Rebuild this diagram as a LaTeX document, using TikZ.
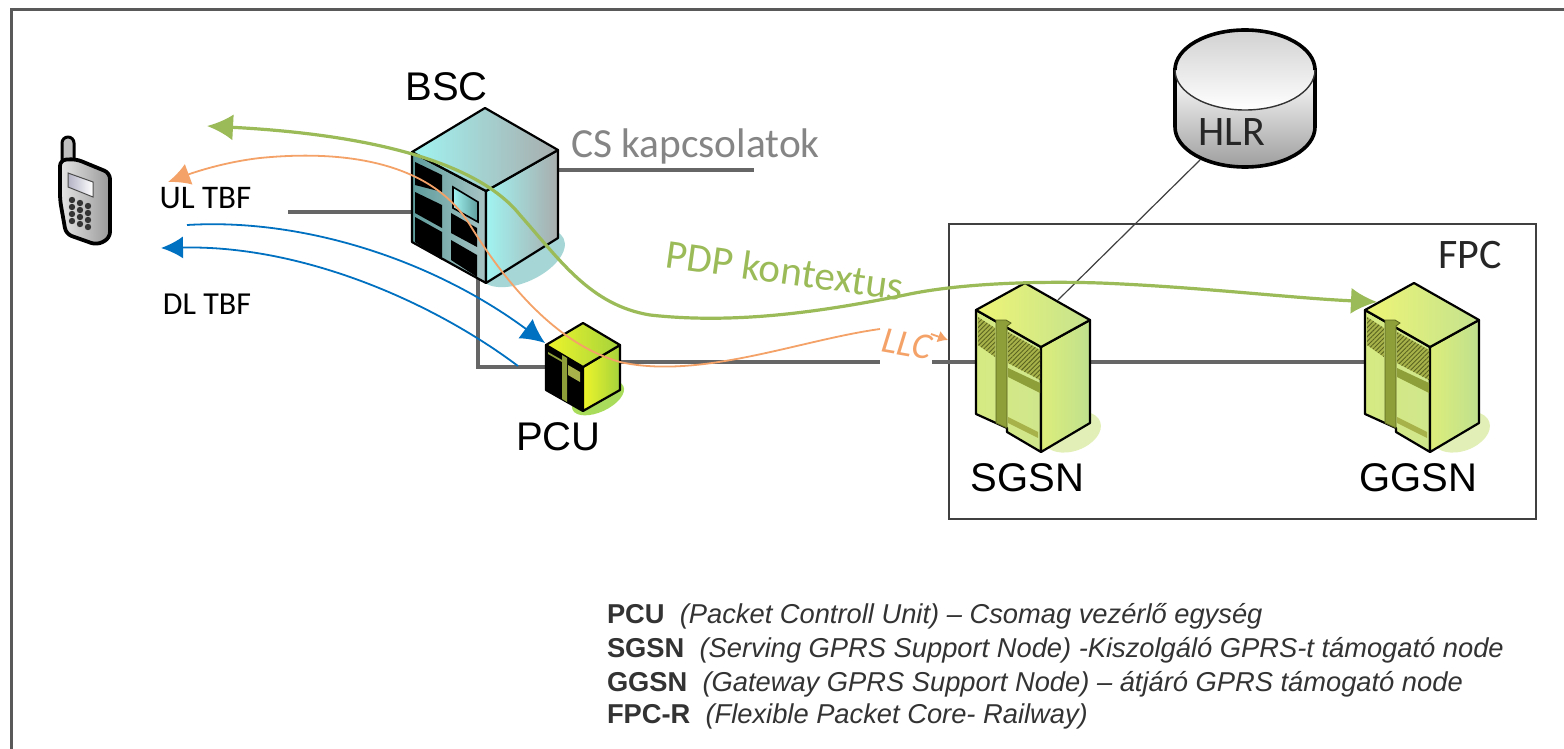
\documentclass[tikz,border=0pt]{standalone}
\usepackage{fontspec}
\setmainfont{Liberation Sans}
\newfontfamily\carl{Carlito}
\usetikzlibrary{arrows.meta,patterns.meta,shapes.geometric}
\definecolor{gArrow}{HTML}{9BBB59}
\definecolor{oArrow}{HTML}{F4A268}
\definecolor{bArrow}{HTML}{0070C0}
\definecolor{lineGray}{HTML}{666666}
\definecolor{srvTopL}{HTML}{EEF575}
\definecolor{srvTopR}{HTML}{C4E28E}
\definecolor{srvLeftL}{HTML}{D6EA82}
\definecolor{srvLeftR}{HTML}{CFE68C}
\definecolor{srvRightL}{HTML}{DDEE7A}
\definecolor{srvRightR}{HTML}{BFE08E}
\definecolor{srvStrip}{HTML}{8E9E38}
\definecolor{srvHatchBg}{HTML}{A8B24A}
\definecolor{srvHatch}{HTML}{5A6420}
\definecolor{srvShadow}{HTML}{E2F0B8}
\definecolor{bscCyan}{HTML}{A0F4F2}
\definecolor{bscGray}{HTML}{A8ACAC}
\definecolor{bscLeftL}{HTML}{5E9C9C}
\definecolor{bscLeftR}{HTML}{A8C4C4}
\definecolor{bscShadow}{HTML}{A6D6D6}
\definecolor{pcuBright}{HTML}{EEF52A}
\definecolor{pcuDim}{HTML}{A4D23C}
\definecolor{pcuShadow}{HTML}{A8DC5A}
\tikzset{
  x=0.5pt,y=-0.5pt,
  dev/.style={inner sep=0pt,outer sep=0pt,draw=none},
  lbl/.style={inner sep=0pt,outer sep=0pt,font=\fontsize{20pt}{22pt}\selectfont},
  clbl/.style={inner sep=0pt,outer sep=0pt,font=\carl\fontsize{16pt}{18pt}\selectfont},
  conn/.style={draw=lineGray,line width=1.7pt},
  thin conn/.style={draw=black!75,line width=0.6pt},
  edge/.style={draw=black,line width=1.1pt,line join=round},
  green curve/.style={draw=gArrow,line width=1.6pt},
  orange curve/.style={draw=oArrow,line width=0.9pt},
  blue curve/.style={draw=bArrow,line width=0.9pt},
  hatchbox/.style={pattern={Lines[angle=45,distance=1.6pt,line width=0.45pt]},pattern color=srvHatch},
  legend/.style={inner sep=0pt,outer sep=0pt,anchor=west,text=black!80,font=\fontsize{13.65pt}{15pt}\selectfont},
}
\newcommand{\serverbody}{%
  \fill[srvShadow,rotate around={20:(1072,432)}] (1072,432) ellipse [x radius=30,y radius=19];
  \path[edge,left color=srvLeftL,right color=srvLeftR] (976,310) -- (1041,347) -- (1041,452) -- (1007,432) -- (1007,428) -- (976,414) -- cycle;
  \path[edge,left color=srvRightL,right color=srvRightR] (1041,347) -- (1090,320) -- (1090,423) -- (1041,452) -- cycle;
  \path[edge,left color=srvTopL,right color=srvTopR] (976,310) -- (1025,283) -- (1090,320) -- (1041,347) -- cycle;
  \path[fill=srvStrip,draw=srvHatch,line width=0.4pt] (996,320) -- (1006,320) -- (1011,323) -- (1007,326) -- (1007,428) -- (996,423) -- cycle;
  \fill[srvHatchBg] (978,317) -- (995,328) -- (995,357) -- (978,345) -- cycle;
  \fill[hatchbox] (978,317) -- (995,328) -- (995,357) -- (978,345) -- cycle;
  \fill[srvHatchBg] (1008,332) -- (1040,350) -- (1040,380) -- (1008,363) -- cycle;
  \fill[hatchbox] (1008,332) -- (1040,350) -- (1040,380) -- (1008,363) -- cycle;
  \fill[srvStrip] (1008,368) -- (1040,383) -- (1040,393) -- (1008,377) -- cycle;
  \fill[srvHatchBg] (1008,417) -- (1038,432) -- (1038,438) -- (1008,423) -- cycle;
}
\begin{document}
\begin{tikzpicture}
\useasboundingbox (0,0) rectangle (1564,749);
\fill[white] (0,0) rectangle (1564,749);
% frame
\draw[draw=black!65,line width=1.5pt] (11,749) -- (11,10) -- (1564,10);
% device anchors
\node[dev,minimum width=73pt,minimum height=87.5pt] (bsc) at (485,196) {};
\node[dev,minimum width=37pt,minimum height=44pt] (pcu) at (583,367) {};
\node[dev,minimum width=57pt,minimum height=85pt] (sgsn) at (1033,367) {};
\node[dev,minimum width=57pt,minimum height=85pt] (ggsn) at (1421,367) {};
\node[dev,minimum width=70pt,minimum height=68.5pt] (hlr) at (1245,98) {};
\node[draw=black!75,line width=0.9pt,inner sep=0pt,minimum width=293.5pt,minimum height=147.5pt] (fpc) at (1242.5,371.5) {};
% free ends
\coordinate (bscFree) at (288,212);
\coordinate (csFree) at (754,170);
\coordinate (bscDown) at (478,270);
\coordinate (pcuOut) at (620,362);
\coordinate (pcuEnd) at (880,362);
\coordinate (sgsnIn) at (932,362);
\coordinate (hlrOut) at (1200,160);
\coordinate (sgsnTop) at (1058,300);
\coordinate (greenMid) at (905,295);
\coordinate (greenHead) at (1377,302);
\coordinate (greenTail) at (207,126);
\coordinate (orangeStart) at (880,329);
\coordinate (orangeHead) at (168,182);
\coordinate (orangeGapStart) at (931,334);
\coordinate (orangeGapHead) at (948,340);
\coordinate (blueOneStart) at (187,225);
\coordinate (blueOneHead) at (545,343);
\coordinate (blueTwoStart) at (518,366);
\coordinate (blueTwoHead) at (161,248);
% connectors
\draw[conn] (bscFree) -- (bsc.west |- bscFree);
\draw[conn] (bsc.east |- csFree) -- (csFree);
\draw[conn] (bscDown) |- (pcu.west);
\draw[conn] (pcuOut) -- (pcuEnd);
\draw[conn] (sgsnIn) -- (sgsn.west |- sgsnIn);
\draw[conn] (sgsn.east |- pcuOut) -- (ggsn.west |- pcuOut);
\draw[thin conn] (hlrOut) -- (sgsnTop);
% BSC
\fill[bscShadow,rotate around={25:(522,258)}] (522,258) ellipse [x radius=46,y radius=24];
\path[edge,left color=bscLeftL,right color=bscLeftR] (412,152) -- (486,191) -- (486,283) -- (412,242) -- cycle;
\path[edge,left color=bscCyan,right color=bscGray] (486,191) -- (558,150) -- (558,238) -- (486,283) -- cycle;
\path[edge,left color=bscCyan,right color=bscGray] (412,152) -- (485,108) -- (558,150) -- (486,191) -- cycle;
\fill[black] (415,162) -- (442,175) -- (442,192) -- (415,185) -- cycle;
\fill[black] (415,192) -- (442,205) -- (442,228) -- (415,213) -- cycle;
\fill[black] (415,217) -- (442,232) -- (442,260) -- (415,242) -- cycle;
\fill[black] (451,213) -- (477,228) -- (477,247) -- (451,233) -- cycle;
\fill[black] (451,240) -- (477,255) -- (477,277) -- (451,260) -- cycle;
\path[draw=black,line width=0.8pt,left color=bscCyan,right color=bscLeftL] (453,187) -- (478,202) -- (478,222) -- (453,208) -- cycle;
% PCU
\fill[pcuShadow,rotate around={25:(598,398)}] (598,398) ellipse [x radius=28,y radius=14];
\path[edge,fill=black] (546,345) -- (583,367) -- (583,411) -- (546,390) -- cycle;
\path[edge,left color=pcuBright,right color=pcuDim] (583,367) -- (620,345) -- (620,390) -- (583,411) -- cycle;
\path[edge,left color=pcuBright,right color=pcuDim] (546,345) -- (583,323) -- (620,345) -- (583,367) -- cycle;
\fill[srvStrip] (562,355) -- (567,358) -- (567,402) -- (562,399) -- cycle;
\fill[srvStrip] (548,352) -- (562,360) -- (562,362) -- (548,354) -- cycle;
\fill[srvHatchBg] (568,365) -- (580,372) -- (580,382) -- (568,375) -- cycle;
% servers
\serverbody
\begin{scope}[shift={(389,0)}]
\serverbody
\end{scope}
% HLR
\path[draw=black,line width=1.8pt,top color=white,bottom color=black!38] (1175,70) -- (1175,127) arc [start angle=180,end angle=360,x radius=70,y radius=-40] -- (1315,70) -- cycle;
\path[draw=black!80,line width=0.7pt,top color=black!18,bottom color=white] (1245,70) ellipse [x radius=70,y radius=40];
\draw[black,line width=1.8pt] (1175,70) arc [start angle=180,end angle=360,x radius=70,y radius=40];
% phone
\path[draw=black,line width=1.5pt,line join=round,fill=black!25] (62,162) -- (62,143) arc [start angle=180,end angle=360,radius=6] -- (74,165);
\path[draw=black,line width=1.9pt,line join=round,rounded corners=3pt,left color=black!10,right color=black!40] (60,160) -- (76,159) -- (110,173) -- (110,238) -- (97,245) -- (66,234) -- (60,200) -- cycle;
\path[draw=black!70,line width=0.5pt,left color=blue!25!black!30!white,right color=white] (68,173) -- (93,182) -- (93,197) -- (68,187) -- cycle;
\foreach \r in {0,1,2,3} \foreach \c in {0,1,2}
  \fill[black!80] ({72+8*\c},{200+7*\r+3*\c}) circle [radius=3.2];
% labels
\node[lbl,anchor=center] (lbsc) at (446.5,87) {BSC};
\node[lbl,anchor=center] (lpcu) at (558.5,437) {PCU};
\node[lbl,anchor=center] (lsgsn) at (1027.5,478) {SGSN};
\node[lbl,anchor=center] (lggsn) at (1418.5,478) {GGSN};
\node[clbl,font=\carl\fontsize{21pt}{22pt}\selectfont,text=black!85,anchor=center] (lhlr) at (1232,132) {HLR};
\node[clbl,font=\carl\fontsize{21pt}{22pt}\selectfont,text=black!85,anchor=center] (lfpc) at (1470,255) {FPC};
\node[clbl,font=\carl\fontsize{20.7pt}{22pt}\selectfont,text=black!48,anchor=center] (lcs) at (695.5,146) {CS kapcsolatok};
\node[clbl,font=\carl\fontsize{16.5pt}{18pt}\selectfont,anchor=center] (lul) at (205.5,198) {UL TBF};
\node[clbl,anchor=center] (ldl) at (207,304) {DL TBF};
\node[clbl,font=\carl\fontsize{20.5pt}{22pt}\selectfont,text=gArrow,rotate=-8,anchor=center] (lpdp) at (785,270) {PDP kontextus};
\node[clbl,font=\carl\itshape\fontsize{18.5pt}{22pt}\selectfont,text=oArrow,rotate=-10,anchor=center] (lllc) at (907,344) {LLC};
% curves
\draw[green curve,-{Latex[length=13pt,width=13pt]}] (greenMid) .. controls (960,283) and (1040,281) .. (1100,283) .. controls (1200,287) and (1290,298) .. (greenHead);
\draw[green curve,-{Latex[length=13pt,width=13pt]}] (greenMid) .. controls (830,310) and (740,325) .. (650,315) .. controls (590,305) and (560,260) .. (520,215) .. controls (480,165) and (380,135) .. (greenTail);
\draw[orange curve,-{Latex[length=11pt,width=11pt]}] (orangeStart) .. controls (800,340) and (700,380) .. (620,362) .. controls (560,345) and (510,290) .. (470,225) .. controls (430,160) and (340,150) .. (260,158) .. controls (225,162) and (195,172) .. (orangeHead);
\draw[orange curve,-{Latex[length=5pt,width=6pt]}] (orangeGapStart) -- (orangeGapHead);
\draw[blue curve,-{Latex[length=12pt,width=12pt]}] (blueOneStart) .. controls (300,218) and (430,258) .. (blueOneHead);
\draw[blue curve,-{Latex[length=11pt,width=11pt]}] (blueTwoStart) .. controls (430,300) and (300,245) .. (blueTwoHead);
% legend
\node[legend] (l1) at (607,616) {\textbf{PCU} \ \textit{(Packet Controll Unit) – Csomag vezérlő egység}};
\node[legend] (l2) at (607,650) {\textbf{SGSN} \ \textit{(Serving GPRS Support Node) -Kiszolgáló GPRS-t támogató node}};
\node[legend] (l3) at (607,684) {\textbf{GGSN} \ \textit{(Gateway GPRS Support Node) – átjáró GPRS támogató node}};
\node[legend] (l4) at (607,716) {\textbf{FPC-R} \ \textit{(Flexible Packet Core- Railway)}};
\end{tikzpicture}
\end{document}
